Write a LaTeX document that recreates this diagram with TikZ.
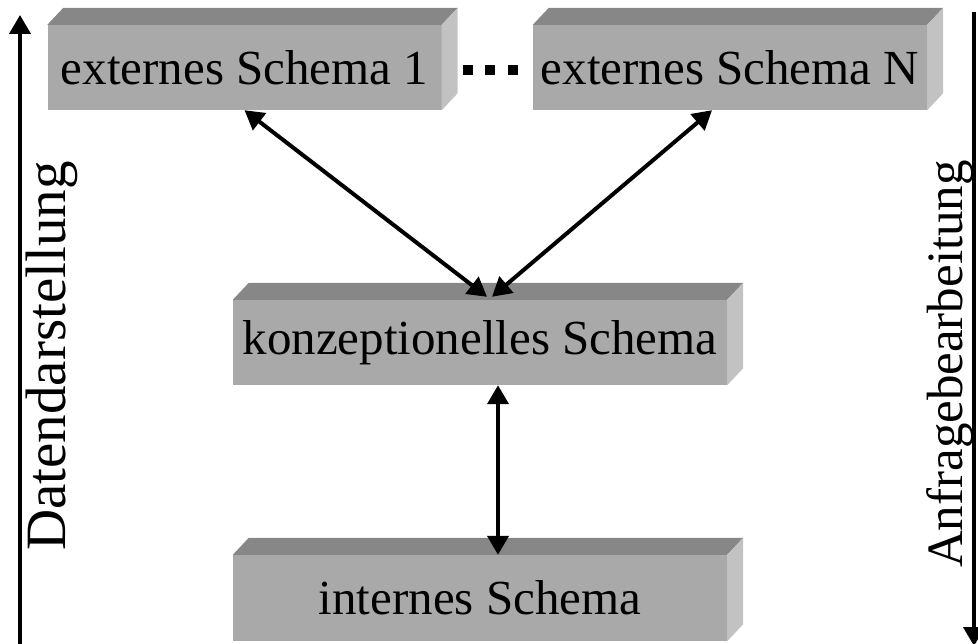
\documentclass[tikz,border=0pt]{standalone}
\usepackage{fontspec}
\setmainfont{Liberation Serif}
\usetikzlibrary{arrows.meta, positioning, calc}
\definecolor{frontgray}{HTML}{A9A9A9}
\definecolor{topgray}{HTML}{878787}
\definecolor{sidegray}{HTML}{C2C2C2}

\begin{document}
\begin{tikzpicture}[
    x=1pt, y=-1pt,
    schema/.style={
        fill=frontgray,
        minimum width=394pt,
        minimum height=85pt,
        inner sep=0pt,
        font=\fontsize{49}{51}\selectfont
    },
    wide/.style={
        minimum width=494pt
    },
    arrow/.style={
        {Triangle[length=19pt,width=21pt]}-{Triangle[length=19pt,width=21pt]},
        line width=4pt
    },
    flow/.style={
        -{Triangle[length=19pt,width=21pt]},
        line width=4pt
    },
    sidelabel/.style={
        rotate=90,
        font=\fontsize{51}{53}\selectfont
    }
]
\useasboundingbox (0,0) rectangle (978,644);

% Schema boxes
\node[schema] (ext1) at (244.5, 67.5) {externes Schema 1};
\node[schema] (extN) at (730, 67.5) {externes Schema N};
\node[schema, wide] (konz) at (480, 342.5) {konzeptionelles Schema};
\node[schema, wide, minimum height=86pt] (intern) at (480, 598) {internes Schema};

% 3D faces
\foreach \n in {ext1, extN, konz, intern} {
    \fill[topgray] (\n.north west) -- (\n.north east) -- ++(16,-17) -- ($(\n.north west)+(16,-17)$) -- cycle;
    \fill[sidegray] (\n.north east) -- (\n.south east) -- ++(16,-17) -- ($(\n.north east)+(16,-17)$) -- cycle;
}

% Dots between external schemas
\foreach \x in {468, 490, 513} {
    \fill (\x-5, 65) rectangle (\x+5, 75);
}

% Arrows between levels
\draw[arrow] (ext1.south) -- ($(konz.north)+(7,-3)$);
\draw[arrow] ($(extN.south)+(-18,0)$) -- ($(konz.north)+(12,-3)$);
\draw[arrow] ($(konz.south)+(18,0)$) -- ($(intern.north)+(18,0)$);

% Side arrows
\coordinate (dbot) at (20, 644);
\coordinate (dtop) at (20, 15);
\coordinate (atop) at (974, 12);
\coordinate (abot) at (974, 646);
\draw[flow] (dbot) -- (dtop);
\draw[flow] (atop) -- (abot);

\node[sidelabel, font=\fontsize{57}{59}\selectfont] (dlabel) at (52, 356) {Datendarstellung};
\node[sidelabel] (alabel) at (950, 364) {Anfragebearbeitung};

\end{tikzpicture}
\end{document}
